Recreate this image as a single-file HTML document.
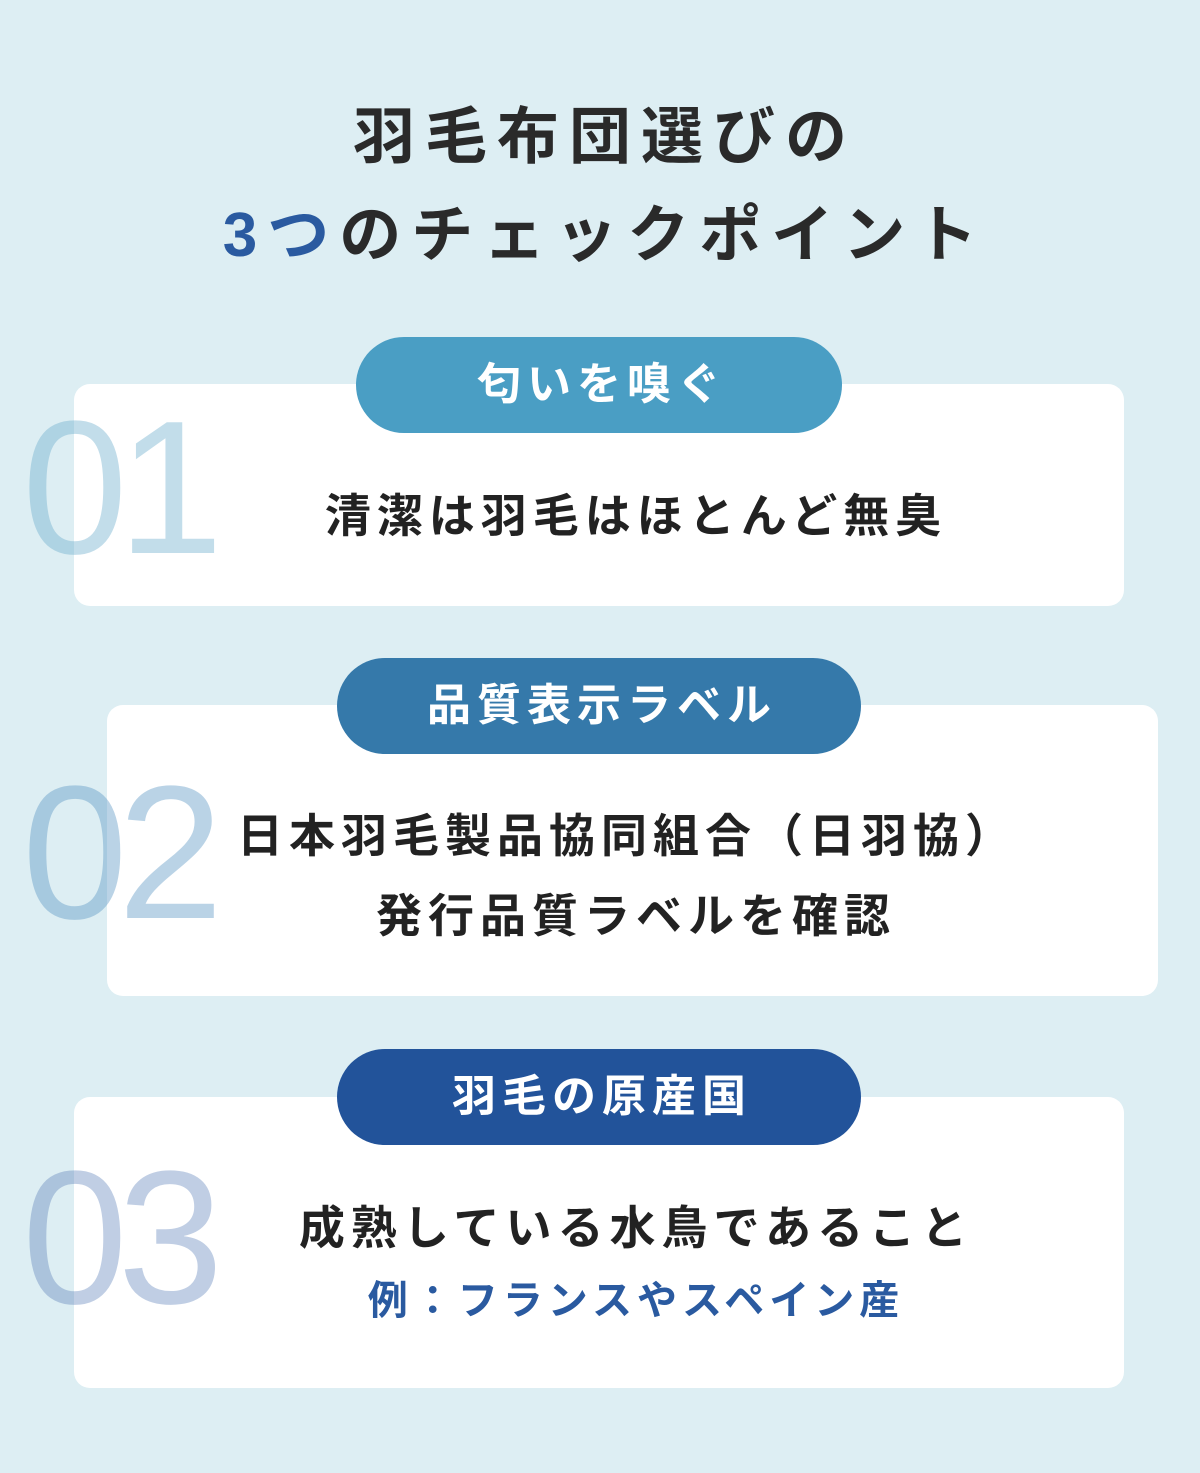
<!DOCTYPE html>
<html><head><meta charset="utf-8"><style>
body{margin:0;width:1200px;height:1473px;background:#ddeef3;position:relative;overflow:hidden;font-family:"Liberation Sans","Noto Sans CJK JP",sans-serif;}
.a{position:absolute;}
.t{left:0;width:1200px;text-align:center;font-weight:700;color:#2a2a2a;white-space:nowrap;}
.card{background:#fff;border-radius:16px;}
.pill{border-radius:48px;color:#fff;font-weight:700;font-size:44px;text-align:center;line-height:96px;letter-spacing:6px;text-indent:6px;}
.num{font-family:"Liberation Sans",sans-serif;font-size:190px;line-height:1;letter-spacing:-10px;}
.tx{font-weight:700;color:#222;font-size:46px;letter-spacing:6px;text-align:center;white-space:nowrap;left:0;width:1272px;}
</style></head><body>
<div class="a t" style="top:98px;font-size:62px;letter-spacing:10px;text-indent:10px;line-height:80px;">羽毛布団選びの</div>
<div class="a t" style="top:196px;font-size:62px;letter-spacing:10px;text-indent:10px;line-height:80px;"><span style="color:#2a5aa0">3つ</span>のチェックポイント</div>

<div class="a card" style="left:74px;top:384px;width:1050px;height:222px;"></div>
<div class="a num" style="left:22px;top:393px;color:rgba(110,175,205,0.42);">01</div>
<div class="a pill" style="left:356px;top:337px;width:486px;height:96px;background:#4a9ec4;">匂いを嗅ぐ</div>
<div class="a tx" style="top:488px;line-height:56px;">清潔は羽毛はほとんど無臭</div>

<div class="a card" style="left:107px;top:705px;width:1051px;height:291px;"></div>
<div class="a num" style="left:22px;top:758px;color:rgba(90,150,195,0.42);">02</div>
<div class="a pill" style="left:337px;top:658px;width:524px;height:96px;background:#3579aa;">品質表示ラベル</div>
<div class="a tx" style="width:1254px;top:808px;line-height:56px;">日本羽毛製品協同組合（日羽協）</div>
<div class="a tx" style="top:888px;line-height:56px;">発行品質ラベルを確認</div>

<div class="a card" style="left:74px;top:1097px;width:1050px;height:291px;"></div>
<div class="a num" style="left:22px;top:1143px;color:rgba(90,125,185,0.38);">03</div>
<div class="a pill" style="left:337px;top:1049px;width:524px;height:96px;background:#22539a;">羽毛の原産国</div>
<div class="a tx" style="top:1200px;line-height:56px;">成熟している水鳥であること</div>
<div class="a tx" style="top:1276px;line-height:50px;font-size:40px;letter-spacing:5px;color:#2a5aa0;">例：フランスやスペイン産</div>
</body></html>
